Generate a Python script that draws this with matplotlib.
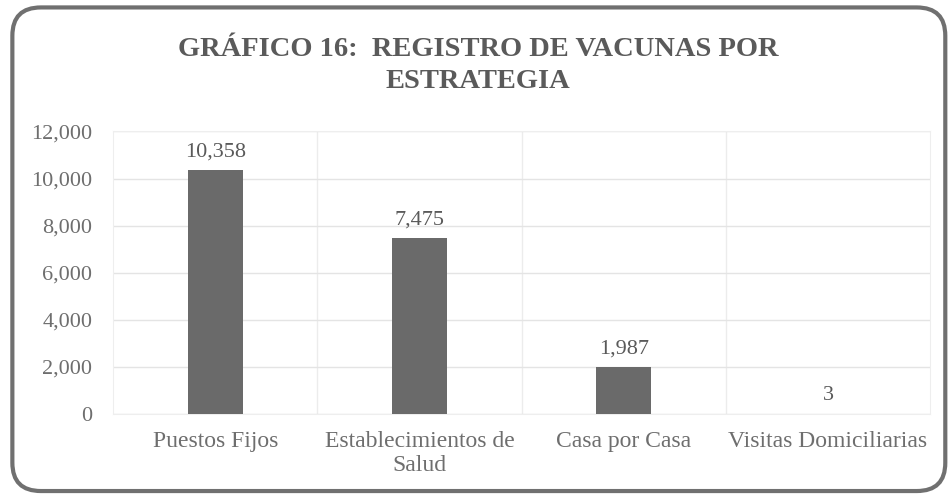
import matplotlib
matplotlib.use("Agg")
import matplotlib.pyplot as plt
from matplotlib.patches import FancyBboxPatch
from matplotlib.ticker import FuncFormatter

categories = ["Puestos Fijos", "Establecimientos de\nSalud", "Casa por Casa", "Visitas Domiciliarias"]
vacunas = [10358, 7475, 1987, 3]
y_ticks = [0, 2000, 4000, 6000, 8000, 10000, 12000]

plt.rcParams["font.family"] = ["Liberation Serif", "DejaVu Serif"]

fig = plt.figure(figsize=(9.51, 4.96), dpi=100)
ax = fig.add_axes([0.119, 0.165, 0.859, 0.570])

# marco redondeado
frame = FancyBboxPatch((0.013, 0.01), 0.981, 0.975,
                       boxstyle="round,pad=0,rounding_size=0.03",
                       transform=fig.transFigure, fill=False,
                       edgecolor="#707070", linewidth=3, mutation_aspect=1.9)
fig.patches.append(frame)

x = range(len(categories))
bars = ax.bar(x, vacunas, width=0.27, color="#6a6a6a", zorder=3)

for b, v in zip(bars, vacunas):
    ax.text(b.get_x() + b.get_width() / 2, v + 380, f"{v:,}",
            ha="center", va="bottom", fontsize=16, color="#5a5a5a")

ax.set_ylim(0, 12000)
ax.set_xlim(-0.5, len(categories) - 0.5)
ax.set_yticks(y_ticks)
ax.yaxis.set_major_formatter(FuncFormatter(lambda v, p: f"{int(v):,}"))
ax.set_xticks(list(x))
ax.set_xticklabels(categories)
ax.set_xticks([i + 0.5 for i in range(len(categories) - 1)], minor=True)

ax.grid(axis="y", color="#e4e4e4", linewidth=1, zorder=0)
ax.grid(axis="x", which="minor", color="#ececec", linewidth=1, zorder=0)
ax.tick_params(axis="both", which="both", length=0, labelcolor="#6e6e6e")
ax.tick_params(axis="x", labelsize=17, pad=12)
ax.tick_params(axis="y", labelsize=16, pad=15)
for s in ax.spines.values():
    s.set_color("#eeeeee")

fig.text(0.503, 0.868, "GRÁFICO 16:  REGISTRO DE VACUNAS POR\nESTRATEGIA",
         ha="center", va="center", fontsize=20.5, fontweight="bold",
         color="#5a5a5a", linespacing=1.4)

fig.savefig("out.png", dpi=100)
